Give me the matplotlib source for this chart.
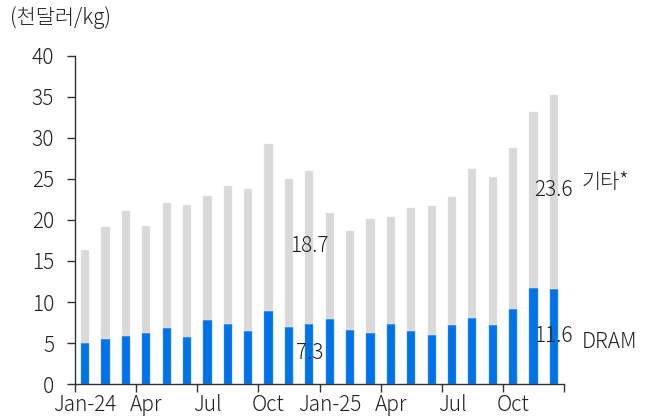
import numpy as np
import matplotlib.pyplot as plt

plt.rcParams['font.family'] = ['Noto Sans CJK JP', 'DejaVu Sans']

months = ['Jan-24', 'Feb', 'Mar', 'Apr', 'May', 'Jun', 'Jul', 'Aug', 'Sep', 'Oct', 'Nov', 'Dec',
          'Jan-25', 'Feb', 'Mar', 'Apr', 'May', 'Jun', 'Jul', 'Aug', 'Sep', 'Oct', 'Nov', 'Dec']
tick_labels = ['Jan-24', 'Apr', 'Jul', 'Oct', 'Jan-25', 'Apr', 'Jul', 'Oct']
dram = [5.0, 5.45, 5.9, 6.25, 6.8, 5.75, 7.85, 7.3, 6.45, 8.95, 7.0, 7.3,
        7.95, 6.55, 6.25, 7.35, 6.5, 6.0, 7.15, 8.0, 7.15, 9.15, 11.75, 11.6]
total = [16.4, 19.2, 21.1, 19.3, 22.1, 21.8, 22.9, 24.1, 23.8, 29.3, 25.0, 26.0,
         20.8, 18.6, 20.1, 20.4, 21.5, 21.7, 22.8, 26.2, 25.3, 28.8, 33.2, 35.2]
other = [t - d for t, d in zip(total, dram)]

blue = '#0073E8'
grey = '#D9D9D9'
txt = '#222222'

fig = plt.figure(figsize=(6.56, 4.2), dpi=100)
ax = fig.add_axes([0.1143, 0.0857, 0.7455, 0.781])

x = np.arange(len(months))
ax.bar(x, dram, width=0.4, color=blue, edgecolor='#5AA0F0', linewidth=0.3)
ax.bar(x, other, bottom=dram, width=0.4, color=grey, edgecolor='#E8E8E8', linewidth=0.3)

ax.set_xlim(-0.5, 23.5)
ax.set_ylim(0, 40)
ax.set_yticks(np.arange(0, 41, 5))
ax.set_xticks(np.arange(0, 24, 3))
ax.set_xticklabels(tick_labels)
ax.set_xticks(np.arange(-0.5, 24, 3), minor=True)
ax.tick_params(axis='x', which='major', length=0, pad=7, labelsize=15, colors=txt)
ax.tick_params(axis='x', which='minor', length=6, width=1, color='#333333')
ax.tick_params(axis='y', length=6, width=1, color='#333333', labelsize=15, labelcolor=txt, pad=9)
for lab in ax.get_xticklabels() + ax.get_yticklabels():
    lab.set_fontweight(300)

for s in ['top', 'right']:
    ax.spines[s].set_visible(False)
for s in ['left', 'bottom']:
    ax.spines[s].set_color('#333333')
    ax.spines[s].set_linewidth(1)

kw = dict(fontsize=15, color=txt, fontweight=300)
ax.text(11, 16.8, '18.7', ha='center', va='center', **kw)
ax.text(11, 3.8, '7.3', ha='center', va='center', **kw)
ax.text(23, 23.7, '23.6', ha='center', va='center', **kw)
ax.text(23, 5.9, '11.6', ha='center', va='center', **kw)
ax.text(24.35, 24.6, '기타*', ha='left', va='center', **kw)
ax.text(24.35, 5.1, 'DRAM', ha='left', va='center', **kw)

fig.text(10 / 656, 1 - 18 / 420, '(천달러/kg)', ha='left', va='center', **kw)

fig.savefig('out.png', dpi=100)
